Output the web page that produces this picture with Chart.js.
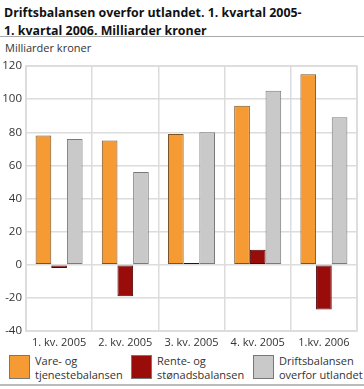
<!DOCTYPE html>
<html>
<head>
<meta charset="utf-8">
<script src="https://cdn.jsdelivr.net/npm/chart.js@4"></script>
<style>
  body { margin: 0; width: 364px; height: 389px; background: #fff; font-family: "Open Sans", sans-serif; color: #222; position: relative; overflow: hidden; }
  #title { position: absolute; left: 4px; top: 4px; font-weight: bold; font-size: 12.4px; line-height: 18px; color: #111; }
  #rule { position: absolute; left: 0; top: 36px; width: 364px; height: 1px; background: #aaa; }
  #unit { position: absolute; left: 5px; top: 40px; font-size: 11px; color: #333; }
  #wrap { position: absolute; left: 0; top: 46px; width: 364px; height: 306px; }
  #legend { position: absolute; left: 0; top: 355px; width: 364px; }
  .item { position: absolute; top: 0; font-size: 11px; line-height: 14px; color: #333; }
  .box { position: absolute; top: 0; width: 19px; height: 22px; border: 1px solid #777; }
  .lbl { position: absolute; left: 26px; top: -1px; white-space: nowrap; }
  #bottom { position: absolute; left: 0; top: 384px; width: 364px; height: 2px; background: #bbb; }
</style>
</head>
<body>
<div id="title">Driftsbalansen overfor utlandet. 1. kvartal 2005-<br>1. kvartal 2006. Milliarder kroner</div>
<div id="rule"></div>
<div id="unit">Milliarder kroner</div>
<div id="wrap"><canvas id="myChart" width="364" height="306"></canvas></div>
<div id="legend"></div>
<div id="bottom"></div>
<script>
const kvartaler = ["1. kv. 2005", "2. kv. 2005", "3. kv. 2005", "4. kv. 2005", "1.kv. 2006"];
const vareOgTjeneste = [78, 75, 79, 96, 115];
const renteOgStonad = [-2, -19, 1, 9, -27];
const driftsbalansen = [76, 56, 80, 105, 89];
const serieNavn = [["Vare- og", "tjenestebalansen"], ["Rente- og", "stønadsbalansen"], ["Driftsbalansen", "overfor utlandet"]];
const farger = ["#F69A34", "#990C0A", "#C9C9C9"];
const kanter = ["#7a5428", "#4a0505", "#7a7a7a"];
const legendX = [9, 131, 253];

//Legend
const legendDiv = document.getElementById("legend");
serieNavn.forEach((navn, i) => {
  const item = document.createElement("div");
  item.className = "item";
  item.style.left = legendX[i] + "px";
  item.innerHTML = `<div class="box" style="background:${farger[i]}"></div><div class="lbl">${navn[0]}<br>${navn[1]}</div>`;
  legendDiv.appendChild(item);
});

const ctx = document.getElementById("myChart").getContext("2d");
const series = [vareOgTjeneste, renteOgStonad, driftsbalansen];

new Chart(ctx, {
  type: "bar",
  data: {
    labels: kvartaler,
    datasets: series.map((values, i) => ({
      label: serieNavn[i].join(" "),
      data: values,
      backgroundColor: farger[i],
      borderColor: kanter[i],
      borderWidth: 1,
      borderSkipped: false,
      categoryPercentage: 0.71,
      barPercentage: 1,
    })),
  },
  options: {
    responsive: false,
    animation: false,
    layout: { padding: { top: 20, right: 7 } },
    plugins: { legend: { display: false }, tooltip: { enabled: false } },
    scales: {
      x: {
        grid: { color: "#dcdcdc", lineWidth: 1.5, drawTicks: false },
        border: { color: "#dcdcdc", width: 1.5 },
        ticks: { color: "#333", font: { family: "Open Sans", size: 11 }, padding: 5, maxRotation: 0 },
        afterFit: (scale) => { scale.height = 21; },
      },
      y: {
        min: -40,
        max: 120,
        grid: { color: "#dcdcdc", lineWidth: 1.5, drawTicks: false },
        border: { color: "#dcdcdc", width: 1.5 },
        ticks: { stepSize: 20, color: "#333", font: { family: "Open Sans", size: 11.5 }, padding: 4 },
        afterFit: (scale) => { scale.width = 26; },
      },
    },
  },
  plugins: [{
    id: "ramme",
    afterDraw(chart) {
      const a = chart.chartArea;
      const c = chart.ctx;
      c.save();
      c.strokeStyle = "#dcdcdc";
      c.lineWidth = 1.5;
      c.strokeRect(a.left, a.top, a.right - a.left, a.bottom - a.top);
      c.restore();
    },
  }],
});
</script>
</body>
</html>
